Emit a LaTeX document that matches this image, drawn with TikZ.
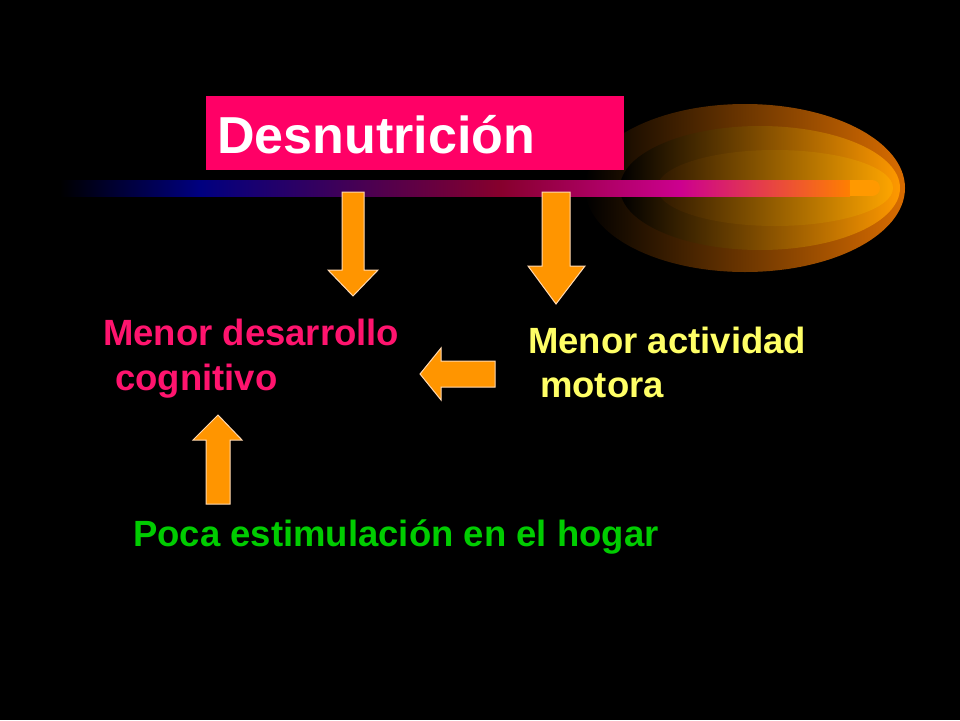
\documentclass[tikz,border=0pt]{standalone}
\usepackage{fontspec}
\setmainfont{Liberation Sans}
\begin{document}
\begin{tikzpicture}[x=1pt,y=-1pt,
  blk/.style={fill=orange!70!yellow!90!red,draw=orange!30!white,line width=1pt},
  lbl/.style={anchor=base west,inner sep=0pt,font=\bfseries\fontsize{36.5}{38}\selectfont}]
\fill[black] (0,0) rectangle (960,720);
\useasboundingbox (0,0) rectangle (960,720);
% swoosh
\begin{scope}
\clip (745,188) ellipse [x radius=160, y radius=84];
\shade[left color=black, right color=orange!85!black] (585,100) rectangle (905,275);
\end{scope}
\begin{scope}
\clip (760,188) ellipse [x radius=140, y radius=62];
\shade[left color=black, right color=orange!80!yellow] (620,120) rectangle (900,255);
\end{scope}
\begin{scope}
\clip (775,188) ellipse [x radius=118, y radius=38];
\shade[left color=black!50!orange!30!black, right color=orange!70!yellow] (650,145) rectangle (895,230);
\end{scope}
\shade[left color=black, right color=blue!50!black] (60,180) rectangle (200,196);
\shade[left color=blue!50!black, right color=purple!70!black] (200,180) rectangle (500,196);
\shade[left color=purple!70!black, right color=magenta!70!red!80!black] (500,180) rectangle (680,196);
\shade[left color=magenta!70!red!80!black, right color=orange] (680,180) rectangle (850,196);
\fill[orange!80!yellow] (850,180) rectangle (872,196);
\fill[orange!80!yellow] (872,188) circle (8);
% title box
\fill[fill={rgb,255:red,255;green,0;blue,102}] (206,96) rectangle (624,170);
\node[lbl,text=white,font=\bfseries\fontsize{52}{54}\selectfont] (t) at (217,153) {Desnutrición};
% arrows
\draw[blk] (342,192) -- (364,192) -- (364,270) -- (378,270) -- (353,296) -- (328,270) -- (342,270) -- cycle;
\draw[blk] (542,192) -- (570,192) -- (570,266) -- (585,266) -- (556,304) -- (528,266) -- (542,266) -- cycle;
\draw[blk] (495,361) -- (495,387) -- (441,387) -- (441,400) -- (420,374) -- (441,348) -- (441,361) -- cycle;
\draw[blk] (206,504) -- (230,504) -- (230,440) -- (242,440) -- (218,415) -- (193,440) -- (206,440) -- cycle;
% texts
\node[lbl,text={rgb,255:red,255;green,20;blue,110}] (a1) at (103,345) {Menor desarrollo};
\node[lbl,text={rgb,255:red,255;green,20;blue,110}] (a2) at (115,390) {cognitivo};
\node[lbl,text={rgb,255:red,255;green,255;blue,102}] (b1) at (528,353) {Menor actividad};
\node[lbl,text={rgb,255:red,255;green,255;blue,102}] (b2) at (540,397) {motora};
\node[lbl,text={rgb,255:red,0;green,204;blue,0}] (c) at (133,546) {Poca estimulación en el hogar};
\end{tikzpicture}
\end{document}
